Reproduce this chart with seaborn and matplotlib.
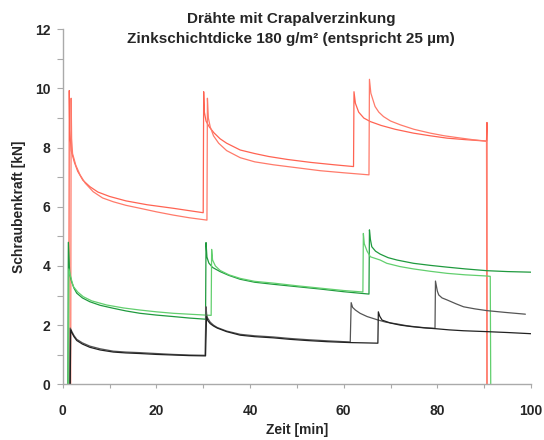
import numpy as np
import pandas as pd
import matplotlib
matplotlib.use("Agg")
import matplotlib.pyplot as plt
from matplotlib.ticker import MultipleLocator
import seaborn as sns

# curves: time [min] / force [kN]
zeit_rot1 = [1.3, 1.4, 1.5, 1.8, 2.5, 3.2, 4.3, 5.8, 7.5, 10.0, 13.5, 18.0, 23.6, 27.0, 30.0,
             30.1, 30.25, 30.6, 31.3, 32.3, 33.6, 35.0, 37.9, 41.0, 44.0, 48.0, 53.0, 58.0, 62.1,
             62.2, 62.5, 63.2, 64.3, 65.7, 68.0, 71.0, 74.9, 78.5, 82.1, 86.0, 90.5, 90.6, 90.6]
kraft_rot1 = [0, 9.93, 8.6, 7.9, 7.5, 7.2, 6.9, 6.68, 6.5, 6.35, 6.2, 6.07, 5.95, 5.87, 5.80,
              9.89, 9.2, 8.9, 8.7, 8.5, 8.3, 8.15, 7.92, 7.8, 7.7, 7.6, 7.5, 7.42, 7.36,
              9.89, 9.5, 9.2, 9.0, 8.88, 8.75, 8.62, 8.49, 8.4, 8.32, 8.27, 8.22, 8.85, 0]

zeit_rot2 = [1.7, 1.8, 1.9, 2.1, 2.8, 3.7, 4.8, 6.5, 8.5, 10.8, 13.5, 16.5, 20.0, 23.6, 27.0, 30.8,
             30.9, 31.1, 31.5, 32.2, 33.3, 35.0, 37.9, 41.0, 45.0, 50.0, 55.0, 60.0, 65.4,
             65.5, 65.8, 66.7, 67.5, 68.5, 70.0, 72.1, 75.0, 78.5, 81.5, 84.2, 87.5, 90.5, 90.6]
kraft_rot2 = [0, 9.67, 8.3, 7.8, 7.4, 7.08, 6.8, 6.51, 6.3, 6.17, 6.05, 5.95, 5.83, 5.72, 5.63, 5.55,
              9.67, 9.0, 8.7, 8.4, 8.15, 7.9, 7.66, 7.52, 7.42, 7.32, 7.22, 7.15, 7.08,
              10.31, 9.84, 9.39, 9.2, 9.05, 8.9, 8.77, 8.62, 8.49, 8.4, 8.34, 8.27, 8.22, 0]

zeit_gruen1 = [1.1, 1.2, 1.5, 1.9, 2.4, 3.0, 4.2, 5.8, 8.0, 10.8, 13.5, 16.5, 20.0, 23.6, 27.0, 30.5,
               30.6, 30.8, 31.2, 32.0, 33.6, 35.5, 37.9, 41.0, 45.0, 50.0, 55.0, 60.0, 65.4,
               65.5, 65.7, 66.0, 66.8, 67.8, 69.5, 71.4, 74.9, 78.5, 82.1, 86.0, 90.6, 95.0, 100.0]
kraft_gruen1 = [0, 4.8, 3.7, 3.47, 3.25, 3.08, 2.92, 2.79, 2.67, 2.57, 2.48, 2.40, 2.34, 2.29, 2.24, 2.20,
                4.79, 4.3, 4.1, 3.95, 3.81, 3.68, 3.55, 3.45, 3.38, 3.30, 3.22, 3.13, 3.05,
                5.22, 4.9, 4.65, 4.50, 4.40, 4.28, 4.20, 4.09, 4.02, 3.96, 3.90, 3.84, 3.81, 3.79]

zeit_gruen2 = [1.2, 1.3, 1.7, 2.0, 2.3, 3.2, 4.4, 6.2, 9.4, 13.0, 16.5, 20.0, 23.6, 27.0, 30.4, 31.7,
               31.8, 32.0, 32.6, 33.6, 35.5, 37.9, 41.0, 45.0, 50.0, 55.0, 60.0, 64.1,
               64.2, 64.4, 65.0, 65.7, 67.8, 69.2, 72.0, 74.9, 78.5, 82.1, 86.0, 90.6, 91.3, 91.4]
kraft_gruen2 = [0, 3.9, 3.64, 3.45, 3.30, 3.12, 2.96, 2.82, 2.68, 2.58, 2.51, 2.45, 2.40, 2.37, 2.34, 2.33,
                4.56, 4.2, 4.0, 3.85, 3.7, 3.58, 3.48, 3.42, 3.33, 3.25, 3.17, 3.12,
                5.10, 4.75, 4.5, 4.31, 4.20, 4.09, 3.98, 3.90, 3.82, 3.75, 3.70, 3.66, 3.65, 0]

zeit_schwarz1 = [1.5, 1.6, 1.9, 2.4, 3.0, 4.2, 5.8, 8.0, 10.8, 13.5, 16.5, 20.0, 23.6, 27.0, 30.4,
                 30.6, 30.75, 30.9, 31.5, 32.2, 33.0, 35.0, 37.9, 41.0, 45.0, 48.5, 52.1, 56.5, 61.4,
                 61.6, 61.9, 62.5, 63.5, 65.0, 67.4, 69.0, 71.4, 73.5, 75.0, 77.5, 79.5,
                 79.6, 80.0, 80.3, 81.0, 82.1, 84.0, 85.6, 88.0, 90.6, 94.5, 98.8]
kraft_schwarz1 = [0, 1.90, 1.80, 1.65, 1.52, 1.40, 1.29, 1.20, 1.12, 1.09, 1.07, 1.04, 1.01, 0.99, 0.98,
                  2.62, 2.35, 2.25, 2.10, 2.0, 1.92, 1.80, 1.69, 1.64, 1.60, 1.55, 1.51, 1.47, 1.43,
                  2.76, 2.6, 2.51, 2.40, 2.29, 2.17, 2.10, 2.04, 1.98, 1.95, 1.91, 1.89,
                  3.49, 3.15, 3.02, 2.92, 2.85, 2.72, 2.62, 2.55, 2.49, 2.43, 2.37]

zeit_schwarz2 = [1.6, 1.7, 1.9, 2.4, 3.0, 4.2, 5.8, 8.0, 10.8, 13.5, 16.5, 20.0, 23.6, 27.0, 30.5,
                 30.7, 31.0, 31.5, 32.2, 33.0, 35.0, 37.9, 41.0, 45.0, 48.5, 52.1, 56.5, 61.4, 64.5, 67.3,
                 67.4, 67.7, 68.2, 70.0, 72.1, 74.5, 77.0, 79.6, 82.5, 85.6, 90.6, 95.0, 100.0]
kraft_schwarz2 = [0, 1.84, 1.76, 1.61, 1.48, 1.36, 1.25, 1.16, 1.09, 1.06, 1.04, 1.01, 0.99, 0.97, 0.96,
                  2.29, 2.15, 2.05, 1.97, 1.90, 1.78, 1.66, 1.61, 1.57, 1.52, 1.48, 1.44, 1.41, 1.40, 1.39,
                  2.45, 2.30, 2.17, 2.07, 2.00, 1.95, 1.91, 1.88, 1.84, 1.81, 1.78, 1.75, 1.71]

kurven = {
    "rot1": (zeit_rot1, kraft_rot1, "#ff6352"),
    "rot2": (zeit_rot2, kraft_rot2, "#ff7a6a"),
    "gruen1": (zeit_gruen1, kraft_gruen1, "#1f9a3e"),
    "gruen2": (zeit_gruen2, kraft_gruen2, "#62cf6e"),
    "schwarz1": (zeit_schwarz1, kraft_schwarz1, "#555555"),
    "schwarz2": (zeit_schwarz2, kraft_schwarz2, "#222222"),
}

frames = []
for name, (t, f, _) in kurven.items():
    frames.append(pd.DataFrame({"zeit": t, "kraft": f, "kurve": name}))
df = pd.concat(frames, ignore_index=True)
palette = {name: c for name, (_, _, c) in kurven.items()}

sns.set_style("white")
plt.rcParams["font.family"] = ["Liberation Sans", "DejaVu Sans"]

fig = plt.figure(figsize=(5.44, 4.40), dpi=100)
ax = fig.add_axes([0.1153, 0.1266, 0.8608, 0.8068])

sns.lineplot(data=df, x="zeit", y="kraft", hue="kurve", palette=palette,
             estimator=None, sort=False, legend=False, linewidth=0.9, ax=ax)

ax.set_xlim(0, 100)
ax.set_ylim(0, 12)
ax.xaxis.set_major_locator(MultipleLocator(20))
ax.xaxis.set_minor_locator(MultipleLocator(10))
ax.yaxis.set_major_locator(MultipleLocator(2))
ax.yaxis.set_minor_locator(MultipleLocator(1))

for side in ["top", "right"]:
    ax.spines[side].set_visible(False)
for side in ["left", "bottom"]:
    ax.spines[side].set_color("#aaaaaa")
    ax.spines[side].set_linewidth(1.0)

ax.tick_params(axis="x", which="both", direction="out", length=3, width=0.8,
               color="#aaaaaa", pad=11, labelsize=10)
ax.tick_params(axis="y", which="both", direction="out", length=4, width=0.8,
               color="#aaaaaa", pad=5, labelsize=10)
ax.tick_params(bottom=True, left=True, which="both")
for lab in ax.get_xticklabels() + ax.get_yticklabels():
    lab.set_fontweight("bold")

ax.set_xlabel("Zeit [min]", fontsize=10, fontweight="bold", labelpad=4)
ax.set_ylabel("Schraubenkraft [kN]", fontsize=10, fontweight="bold", labelpad=6)

fig.text(0.535, 0.972, "Drähte mit Crapalverzinkung\nZinkschichtdicke 180 g/m² (entspricht 25 µm)",
         ha="center", va="top", fontsize=11, fontweight="bold", linespacing=1.5)

fig.savefig("out.png", dpi=100)
